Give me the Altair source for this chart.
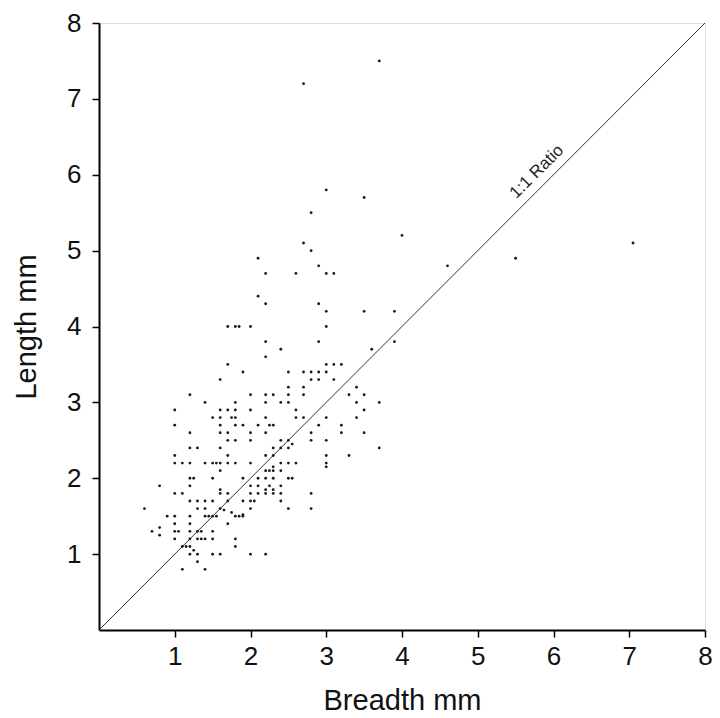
import altair as alt
import pandas as pd

# Scatter values (breadth mm, length mm)
breadth = [
    3.7, 2.7, 3.0, 3.5, 2.8, 4.0, 2.7, 2.8, 2.1, 7.05, 5.5, 4.6, 2.9, 2.2, 2.6, 3.0, 3.1,
    2.1, 2.2, 2.9, 3.0, 3.5, 3.9, 1.7, 1.8, 1.85, 2.0, 3.0, 2.2, 2.9, 3.9, 2.4, 3.6, 2.2,
    1.7, 3.0, 3.1, 3.2, 1.9, 2.5, 2.7, 2.8, 2.9, 3.0, 1.6, 2.8, 2.9, 3.1, 2.5, 2.7, 3.4,
    1.2, 2.0, 2.2, 2.3, 2.5, 2.7, 3.3, 3.5,
    1.4, 1.8, 2.2, 2.4, 2.5, 3.4, 3.7,
    1.0, 1.6, 1.7, 1.8, 2.0, 2.6, 3.5,
    1.5, 1.6, 1.75, 1.8, 2.2, 2.6, 2.7, 3.0, 3.4,
    1.0, 1.6, 1.8, 1.9, 2.1, 2.25, 2.3, 2.9, 3.2,
    1.2, 1.6, 1.7, 2.0, 2.2, 2.8, 3.2, 3.5,
    1.7, 1.8, 2.0, 2.4, 2.5, 2.55, 2.8, 3.0,
    1.2, 1.3, 1.6, 2.3, 2.4, 2.5, 3.7,
    1.0, 1.7, 2.2, 2.3, 3.0, 3.3,
    1.0, 1.1, 1.2, 1.4, 1.5, 1.55, 1.6, 1.7, 1.8, 2.0, 2.4, 2.5, 2.6, 3.0,
    3.0, 1.6, 2.2, 2.25, 2.3, 2.4, 2.3,
    1.2, 1.25, 1.5, 1.9, 2.1, 2.2, 2.3, 2.5, 2.55,
    0.8, 1.2, 2.0, 2.1, 2.2, 2.25, 2.3, 2.4,
    1.0, 1.1, 1.6, 1.6, 1.7, 2.0, 2.1, 2.2, 2.3, 2.4, 2.8,
    1.2, 1.3, 1.4, 1.5, 1.7, 1.9, 2.0, 2.05, 2.4,
    0.6, 1.3, 1.4, 1.6, 1.65, 2.0, 2.5, 2.8,
    0.9, 1.0, 1.2, 1.4, 1.45, 1.5, 1.55, 1.75, 1.8, 1.85, 1.9, 1.9,
    1.0, 1.2, 1.7, 0.8,
    0.7, 0.8, 1.0, 1.05, 1.2, 1.3, 1.35, 1.5,
    1.0, 1.2, 1.3, 1.35, 1.4, 1.5, 1.8,
    1.1, 1.15, 1.2, 1.8,
    1.25, 1.3, 1.2, 1.5, 1.6, 2.0, 2.2,
    1.3, 1.1, 1.4,
]
length = [
    7.5, 7.2, 5.8, 5.7, 5.5, 5.2, 5.1, 5.0, 4.9, 5.1, 4.9, 4.8, 4.8, 4.7, 4.7, 4.7, 4.7,
    4.4, 4.3, 4.3, 4.2, 4.2, 4.2, 4.0, 4.0, 4.0, 4.0, 4.0, 3.8, 3.8, 3.8, 3.7, 3.7, 3.6,
    3.5, 3.5, 3.5, 3.5, 3.4, 3.4, 3.4, 3.4, 3.4, 3.4, 3.3, 3.3, 3.3, 3.3, 3.2, 3.2, 3.2,
    3.1, 3.1, 3.1, 3.1, 3.1, 3.1, 3.1, 3.1,
    3.0, 3.0, 3.0, 3.0, 3.0, 3.0, 3.0,
    2.9, 2.9, 2.9, 2.9, 2.9, 2.9, 2.9,
    2.8, 2.8, 2.8, 2.8, 2.8, 2.8, 2.8, 2.8, 2.8,
    2.7, 2.7, 2.7, 2.7, 2.7, 2.7, 2.7, 2.7, 2.7,
    2.6, 2.6, 2.6, 2.6, 2.6, 2.6, 2.6, 2.6,
    2.5, 2.5, 2.5, 2.5, 2.5, 2.45, 2.5, 2.5,
    2.4, 2.4, 2.4, 2.4, 2.4, 2.4, 2.4,
    2.3, 2.3, 2.3, 2.3, 2.3, 2.3,
    2.2, 2.2, 2.2, 2.2, 2.2, 2.2, 2.2, 2.2, 2.2, 2.2, 2.2, 2.2, 2.2, 2.2,
    2.15, 2.1, 2.1, 2.1, 2.1, 2.1, 2.15,
    2.0, 2.0, 2.0, 2.0, 2.0, 2.0, 2.0, 2.0, 2.0,
    1.9, 1.9, 1.9, 1.9, 1.85, 1.9, 1.85, 1.9,
    1.8, 1.8, 1.85, 1.8, 1.8, 1.8, 1.8, 1.8, 1.8, 1.8, 1.8,
    1.7, 1.7, 1.7, 1.7, 1.7, 1.7, 1.7, 1.7, 1.7,
    1.6, 1.6, 1.6, 1.6, 1.58, 1.6, 1.6, 1.6,
    1.5, 1.5, 1.5, 1.5, 1.5, 1.5, 1.5, 1.55, 1.5, 1.5, 1.52, 1.5,
    1.4, 1.4, 1.4, 1.35,
    1.3, 1.25, 1.3, 1.3, 1.3, 1.3, 1.3, 1.3,
    1.2, 1.2, 1.2, 1.2, 1.2, 1.2, 1.2,
    1.1, 1.1, 1.1, 1.1,
    1.05, 1.0, 1.0, 1.0, 1.0, 1.0, 1.0,
    0.9, 0.8, 0.8,
]

ratio_x = [0, 8]
ratio_y = [0, 8]
label_text = ["1:1 Ratio"]
label_x = [5.78]
label_y = [6.04]
tick_values = [1, 2, 3, 4, 5, 6, 7, 8]

df = pd.DataFrame({"breadth": breadth, "length": length})
line_df = pd.DataFrame({"x": ratio_x, "y": ratio_y})
lab_df = pd.DataFrame({"x": label_x, "y": label_y, "t": label_text})

FONT = "Liberation Sans"
xscale = alt.Scale(domain=[0, 8], nice=False, zero=True)
yscale = alt.Scale(domain=[0, 8], nice=False, zero=True)

common_axis = dict(
    values=tick_values, format="d", grid=False, domainColor="black", domainWidth=2,
    tickColor="black", tickWidth=1.5, tickSize=7, labelFontSize=26,
    labelFont=FONT, labelColor="#111", labelFlush=False, labelOverlap=False,
    titleFontSize=29, titleFont=FONT, titleFontWeight="normal", titleColor="#111",
)
xaxis = alt.Axis(title="Breadth  mm", labelPadding=6, titlePadding=17, **common_axis)
yaxis = alt.Axis(title="Length  mm", labelPadding=11, titlePadding=25, **common_axis)

points = alt.Chart(df).mark_circle(size=8, color="#1a1a1a", opacity=1).encode(
    x=alt.X("breadth:Q", scale=xscale, axis=xaxis),
    y=alt.Y("length:Q", scale=yscale, axis=yaxis),
)

line = alt.Chart(line_df).mark_line(color="#333333", strokeWidth=1).encode(
    x=alt.X("x:Q", scale=xscale),
    y=alt.Y("y:Q", scale=yscale),
)

label = alt.Chart(lab_df).mark_text(
    angle=315, fontSize=17, font=FONT, align="center", baseline="middle", color="#222"
).encode(
    x=alt.X("x:Q", scale=xscale),
    y=alt.Y("y:Q", scale=yscale),
    text="t:N",
)

chart = alt.layer(line, points, label).properties(
    width=606,
    height=607,
    autosize=alt.AutoSizeParams(type="none"),
    padding={"left": 91, "top": 15, "right": 7, "bottom": 88},
).configure_view(stroke=None).configure(background="white")

chart.save("out.html", embed_options={"renderer": "svg", "actions": False})
